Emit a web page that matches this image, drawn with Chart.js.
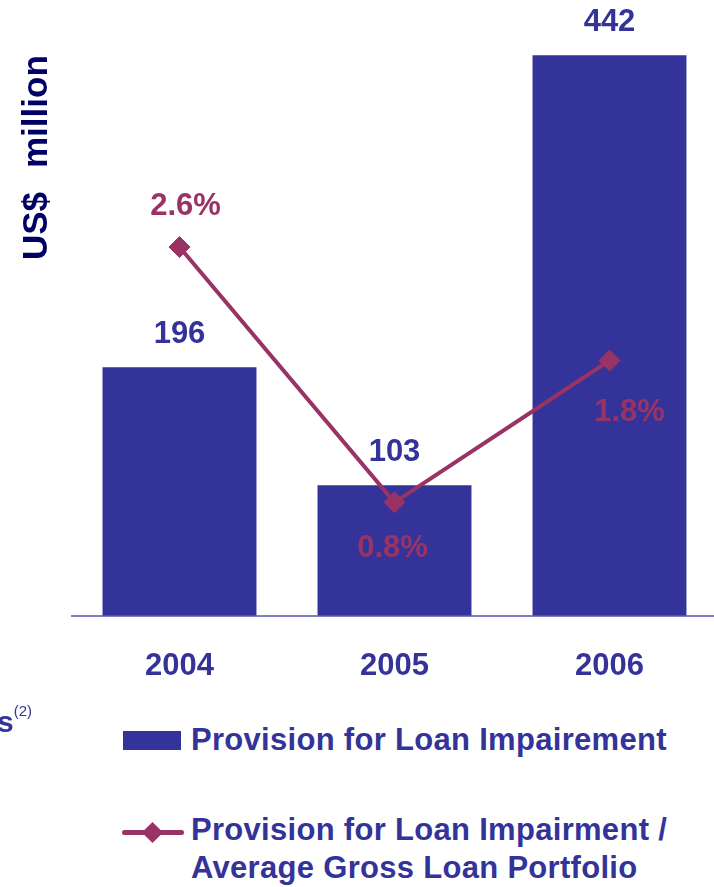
<!DOCTYPE html>
<html>
<head>
<meta charset="utf-8">
<script src="https://cdn.jsdelivr.net/npm/chart.js@4.4.0/dist/chart.umd.min.js"></script>
<style>
  html, body { margin: 0; padding: 0; background: #fff; width: 714px; height: 887px; overflow: hidden; }
  body { position: relative; font-family: 'Liberation Sans', Arial, sans-serif; }
  #wrap { position: absolute; left: 0; top: 0; width: 720px; height: 720px; }
  .lg { position: absolute; color: #333399; font-weight: bold; font-size: 31px; letter-spacing: 0.3px; white-space: nowrap; }
  #sw1 { position: absolute; left: 123px; top: 731px; width: 58px; height: 19px; background: #333399; }
  #sw2 { position: absolute; left: 122px; top: 830px; width: 62px; height: 5px; border-radius: 3px; background: #993366; }
  #sw2d { position: absolute; left: 145px; top: 825px; width: 15px; height: 15px; background: #993366; transform: rotate(45deg); }
  #note { position: absolute; left: -3px; top: 704px; color: #333399; font-weight: bold; font-size: 30px; line-height: 36px; }
  #note sup { font-weight: normal; font-size: 15px; vertical-align: 0; position: relative; top: -16px; }
</style>
</head>
<body>
<div id="wrap"><canvas id="provChart" width="720" height="720"></canvas></div>

<div id="note">s<sup>(2)</sup></div>
<div id="sw1"></div>
<div class="lg" style="left:191px; top:722px; line-height:36px;">Provision for Loan Impairement</div>
<div id="sw2"></div>
<div id="sw2d"></div>
<div class="lg" style="left:191px; top:811px; line-height:38px;">Provision for Loan Impairment /<br>Average Gross Loan Portfolio</div>

<script>
// provision figures
let years = ['2004', '2005', '2006'];
let provision = [196, 103, 442];           // US$ million
let provisionRatio = [2.6, 0.8, 1.8];      // % of average gross loan portfolio

let navy = '#333399';
let plum = '#993366';
let font = "'Liberation Sans', Arial, sans-serif";

// value labels above bars, ratio labels near the diamonds
let valueLabels = {
    id: 'valueLabels',
    afterDatasetsDraw(chart) {
        let ctx = chart.ctx;
        ctx.save();
        ctx.font = 'bold 31px ' + font;
        ctx.textAlign = 'center';
        ctx.textBaseline = 'middle';

        chart.getDatasetMeta(0).data.forEach(function (bar, i) {
            ctx.fillStyle = navy;
            ctx.fillText(provision[i], bar.x, bar.y - 33);
        });

        let shift = [[6, -41], [-2, 46], [20, 52]];
        chart.getDatasetMeta(1).data.forEach(function (pt, i) {
            ctx.fillStyle = plum;
            ctx.fillText(provisionRatio[i].toFixed(1) + '%', pt.x + shift[i][0], pt.y + shift[i][1]);
        });

        // axis caption, rotated
        ctx.translate(47, 260);
        ctx.rotate(-Math.PI / 2);
        ctx.textAlign = 'left';
        ctx.textBaseline = 'alphabetic';
        ctx.fillStyle = '#000066';
        ctx.font = 'bold 35px ' + font;
        ctx.fillText('US$', 0, 0);
        ctx.fillText('million', 92, 0);
        ctx.restore();
    }
};

let ctx = document.getElementById('provChart').getContext('2d');
let provChart = new Chart(ctx, {
    data: {
        labels: years,
        datasets: [{
            type: 'bar',
            label: 'Provision for Loan Impairement',
            data: provision,
            backgroundColor: navy,
            categoryPercentage: 1,
            barPercentage: 0.716,
            yAxisID: 'y',
            order: 2
        }, {
            type: 'line',
            label: 'Provision for Loan Impairment / Average Gross Loan Portfolio',
            data: provisionRatio,
            borderColor: plum,
            borderWidth: 4,
            pointStyle: 'rectRot',
            pointRadius: 10.5,
            pointBackgroundColor: plum,
            pointBorderColor: plum,
            pointBorderWidth: 1,
            yAxisID: 'y1',
            order: 1
        }]
    },
    options: {
        responsive: false,
        animation: false,
        devicePixelRatio: 1,
        layout: { autoPadding: false, padding: { left: 72, right: 3, top: 40, bottom: 11 } },
        plugins: { legend: { display: false }, tooltip: { enabled: false } },
        scales: {
            x: {
                grid: { display: false },
                border: { color: '#7f7fc6', width: 2 },
                ticks: { color: navy, padding: 24, font: { family: font, size: 31, weight: 'bold' } }
            },
            y: { display: false, min: 0, max: 454 },
            y1: { display: false, min: 0, max: 4.06 }
        }
    },
    plugins: [valueLabels]
});
</script>
</body>
</html>
